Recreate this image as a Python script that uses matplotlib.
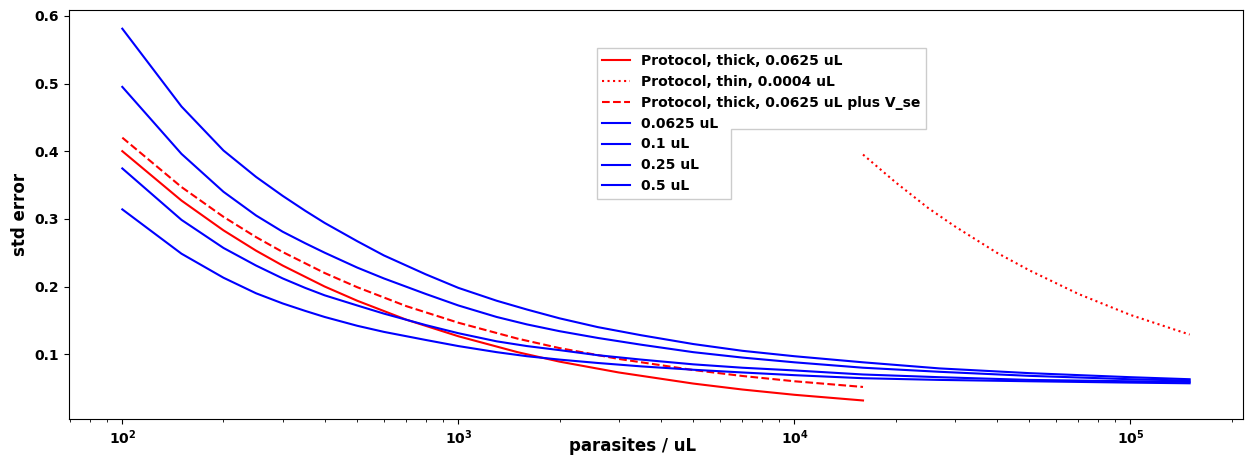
import numpy as np
import matplotlib
matplotlib.use("Agg")
import matplotlib.pyplot as plt
from matplotlib.patches import Polygon

plt.rcParams['font.weight'] = 'bold'
plt.rcParams['axes.labelweight'] = 'bold'
plt.rcParams['mathtext.default'] = 'bf'
plt.rcParams['font.size'] = 10

# protocol curves
x_thick = [100, 150, 200, 250, 300, 400, 500, 700, 1000, 1500, 2000, 3000, 5000, 7000, 10000, 16000]
se_thick = [0.400, 0.327, 0.283, 0.253, 0.231, 0.200, 0.179, 0.151, 0.1265, 0.103, 0.089, 0.073, 0.0566, 0.0478, 0.040, 0.0316]
se_thick_vse = [0.420, 0.347, 0.303, 0.273, 0.251, 0.220, 0.199, 0.171, 0.1465, 0.123, 0.109, 0.093, 0.0766, 0.0678, 0.060, 0.0516]

x_thin = [16000, 20000, 25000, 30000, 40000, 50000, 70000, 100000, 150000]
se_thin = [0.395, 0.354, 0.316, 0.289, 0.250, 0.224, 0.189, 0.158, 0.129]

# volume curves
x_vol = [100, 150, 200, 250, 300, 350, 400, 500, 600, 800, 1000, 1300, 1600, 2000, 2600,
         3500, 5000, 7000, 10000, 16000, 27000, 50000, 100000, 150000]
volumes = ['0.0625 uL', '0.1 uL', '0.25 uL', '0.5 uL']
se_vol = [
    [0.581, 0.466, 0.401, 0.362, 0.334, 0.312, 0.294, 0.267, 0.246, 0.218, 0.198, 0.179, 0.166,
     0.153, 0.140, 0.128, 0.115, 0.105, 0.097, 0.088, 0.079, 0.072, 0.066, 0.063],
    [0.495, 0.396, 0.340, 0.305, 0.281, 0.264, 0.250, 0.228, 0.212, 0.189, 0.172, 0.155, 0.144,
     0.134, 0.124, 0.114, 0.103, 0.095, 0.088, 0.080, 0.074, 0.068, 0.063, 0.061],
    [0.3745, 0.2985, 0.257, 0.231, 0.212, 0.198, 0.187, 0.172, 0.160, 0.143, 0.131, 0.119, 0.112,
     0.106, 0.0985, 0.092, 0.085, 0.080, 0.076, 0.070, 0.066, 0.062, 0.060, 0.059],
    [0.314, 0.2485, 0.213, 0.190, 0.175, 0.164, 0.155, 0.142, 0.133, 0.121, 0.112, 0.103, 0.097,
     0.092, 0.087, 0.082, 0.077, 0.073, 0.069, 0.0645, 0.062, 0.060, 0.058, 0.057],
]

fig, ax = plt.subplots(figsize=(12.49, 4.59), dpi=100)
fig.subplots_adjust(left=0.0552, right=0.9952, top=0.978, bottom=0.087)

ax.plot(x_thick, se_thick, 'r-', lw=1.5, label='Protocol, thick, 0.0625 uL')
ax.plot(x_thin, se_thin, 'r:', lw=1.5, label='Protocol, thin, 0.0004 uL')
ax.plot(x_thick, se_thick_vse, 'r--', lw=1.5, label='Protocol, thick, 0.0625 uL plus V_se')
for v, se in zip(volumes, se_vol):
    ax.plot(x_vol, se, 'b-', lw=1.5, label=v)

ax.set_xscale('log')
ax.set_xlabel('parasites / uL', fontsize=12)
ax.xaxis.set_label_coords(0.48, -0.045)
ax.set_ylabel('std error', fontsize=12)

leg = ax.legend(loc='upper left', bbox_to_anchor=(0.4497, 0.907), borderaxespad=0,
                frameon=False)

# notched frame behind the legend
fig.canvas.draw()
r = fig.canvas.get_renderer()
bb = leg.get_window_extent(r)
t4 = leg.get_texts()[3].get_window_extent(r)
xn = t4.x1 + 12
yn = (t4.y0 + t4.y1) / 2 - 5
pts = [(bb.x0, bb.y0), (xn, bb.y0), (xn, yn), (bb.x1, yn), (bb.x1, bb.y1), (bb.x0, bb.y1)]
pts = ax.transAxes.inverted().transform(pts)
frame = Polygon(pts, closed=True, transform=ax.transAxes, facecolor='white',
                edgecolor='0.8', lw=1, zorder=4.5, clip_on=False)
ax.add_patch(frame)

fig.savefig('out.png', dpi=100)
